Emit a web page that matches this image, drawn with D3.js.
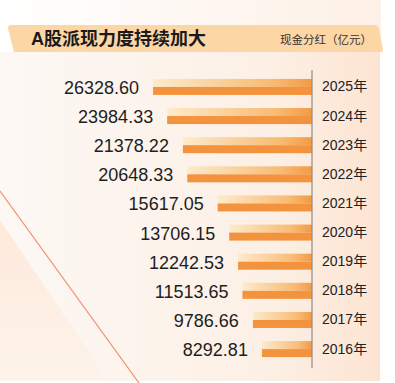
<!DOCTYPE html>
<html>
<head>
<meta charset="utf-8">
<script src="https://cdn.jsdelivr.net/npm/d3@7"></script>
<style>
  body { margin: 0; background: #fff; }
  svg { display: block; font-family: "Liberation Sans", Arial, "Noto Sans CJK SC", sans-serif; }
</style>
</head>
<body>
<svg width="395" height="383"></svg>
<script>
// data
const years = ['2025年', '2024年', '2023年', '2022年', '2021年', '2020年', '2019年', '2018年', '2017年', '2016年'];
const dividends = [26328.60, 23984.33, 21378.22, 20648.33, 15617.05, 13706.15, 12242.53, 11513.65, 9786.66, 8292.81];

const title = 'A股派现力度持续加大';
const unitLabel = '现金分红（亿元）';

const svg = d3.select('svg');
const defs = svg.append('defs');

// background gradients
const bg = defs.append('linearGradient').attr('id', 'bg').attr('x1', 0).attr('x2', 1).attr('y1', 0).attr('y2', 0);
bg.append('stop').attr('offset', '0%').attr('stop-color', '#fcf8f4');
bg.append('stop').attr('offset', '70%').attr('stop-color', '#fcf0e6');
bg.append('stop').attr('offset', '100%').attr('stop-color', '#fde4d2');

const topBg = defs.append('linearGradient').attr('id', 'topBg').attr('x1', 0).attr('x2', 1).attr('y1', 0).attr('y2', 0);
topBg.append('stop').attr('offset', '0%').attr('stop-color', '#ffffff');
topBg.append('stop').attr('offset', '100%').attr('stop-color', '#fdf0e6');

const tri = defs.append('linearGradient').attr('id', 'tri').attr('x1', 0).attr('x2', 0).attr('y1', 0).attr('y2', 1);
tri.append('stop').attr('offset', '0%').attr('stop-color', '#fdeadb');
tri.append('stop').attr('offset', '100%').attr('stop-color', '#fdf3ea');

const barTop = defs.append('linearGradient').attr('id', 'barTop').attr('x1', 0).attr('x2', 1).attr('y1', 0).attr('y2', 0);
barTop.append('stop').attr('offset', '0%').attr('stop-color', '#fdebcc');
barTop.append('stop').attr('offset', '75%').attr('stop-color', '#f8bb74');
barTop.append('stop').attr('offset', '100%').attr('stop-color', '#f39a45');

svg.append('rect').attr('x', 0).attr('y', 0).attr('width', 381).attr('height', 52).attr('fill', 'url(#topBg)');
svg.append('rect').attr('x', 0).attr('y', 52).attr('width', 380).attr('height', 329).attr('fill', 'url(#bg)');

// decorative triangle and diagonal line
svg.append('path').attr('d', 'M0,220 L108,381 L0,381 Z').attr('fill', 'url(#tri)');
svg.append('line').attr('x1', 0).attr('y1', 191).attr('x2', 139).attr('y2', 383)
  .attr('stroke', '#ef9070').attr('stroke-width', 1.2);

// title banner
svg.append('path')
  .attr('d', 'M11,25 L374,25 Q378,25 379,29 L383,50 Q383,52 380,52 L14,52 L8,28 Q8,25 11,25 Z')
  .attr('fill', '#fdd6a6');
svg.append('text').attr('x', 31).attr('y', 45).attr('font-size', 18).attr('font-weight', 'bold')
  .attr('fill', '#1a1a1a').text(title);
svg.append('text').attr('x', 372).attr('y', 44).attr('text-anchor', 'end').attr('font-size', 11.5)
  .attr('fill', '#333').text(unitLabel);

// scales
const x = d3.scaleLinear().domain([0, 26328.60]).range([312, 153]);
const y = d3.scaleBand().domain(years).range([72.5, 363.5]).paddingInner(0.45).paddingOuter(0.22);

const bh = y.bandwidth();

const bars = svg.append('g').selectAll('g').data(years).join('g');

bars.append('rect')
  .attr('x', (d, i) => x(dividends[i]))
  .attr('y', d => y(d))
  .attr('width', (d, i) => x(0) - x(dividends[i]))
  .attr('height', bh / 2)
  .attr('fill', 'url(#barTop)');

bars.append('rect')
  .attr('x', (d, i) => x(dividends[i]))
  .attr('y', d => y(d) + bh / 2)
  .attr('width', (d, i) => x(0) - x(dividends[i]))
  .attr('height', bh / 2)
  .attr('fill', '#f4933d');

bars.append('text')
  .attr('x', (d, i) => x(dividends[i]) - 14)
  .attr('y', d => y(d) + bh / 2 + 7)
  .attr('text-anchor', 'end')
  .attr('font-size', 18)
  .attr('fill', '#1e1e1e')
  .text((d, i) => dividends[i].toFixed(2));

// axis with year labels
const axis = svg.append('g').attr('transform', `translate(${x(0)},0)`)
  .call(d3.axisRight(y).tickSize(0).tickPadding(10));
axis.select('.domain').attr('stroke', '#8c8c8c').attr('stroke-width', 1.2)
  .attr('d', 'M0,70V368');
axis.selectAll('text').attr('font-size', 14).attr('fill', '#222')
  .attr('font-family', '"Liberation Sans", Arial, "Noto Sans CJK SC", sans-serif');
</script>
</body>
</html>
